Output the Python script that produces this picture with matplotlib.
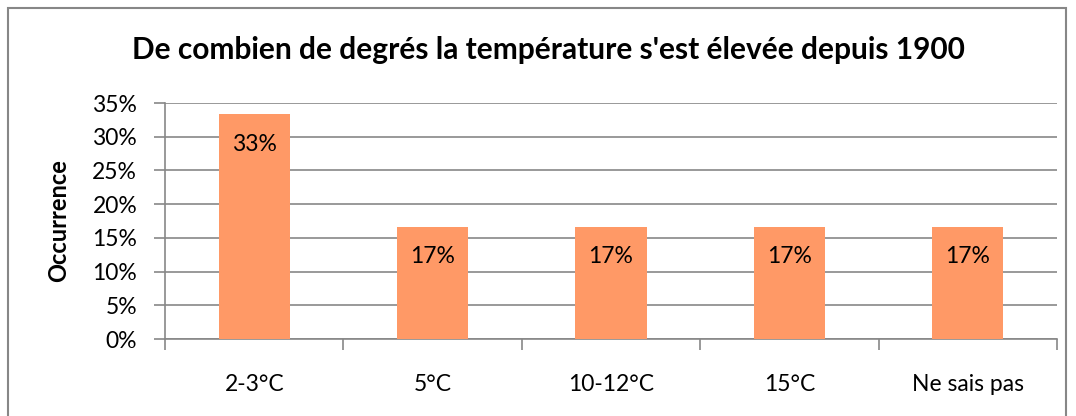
import numpy as np
import matplotlib.pyplot as plt
from matplotlib.patches import Rectangle
from matplotlib.ticker import MultipleLocator, PercentFormatter

plt.rcParams['font.family'] = ['Lato', 'DejaVu Sans']

categories = ['2-3°C', '5°C', '10-12°C', '15°C', 'Ne sais pas']
values = [33.33, 16.67, 16.67, 16.67, 16.67]
labels = ['33%', '17%', '17%', '17%', '17%']

fig = plt.figure(figsize=(10.76, 4.16), dpi=100)
ax = fig.add_axes([165 / 1076, 1 - 339 / 416, 892 / 1076, 236 / 416])

# cadre autour du graphique
fig.patches.append(Rectangle((8 / 1076, -0.01), 1058 / 1076, 1 - 8 / 416 + 0.01,
                             transform=fig.transFigure, fill=False,
                             edgecolor='#878787', linewidth=1.5))

x = np.arange(len(categories))
bars = ax.bar(x, values, width=0.4, color='#FF9966', zorder=3)
for xi, v, lab in zip(x, values, labels):
    ax.text(xi, v - 4.5, lab, ha='center', va='center', fontsize=16.5, zorder=4)

ax.set_xlim(-0.5, len(categories) - 0.5)
ax.set_ylim(0, 35)
ax.yaxis.set_major_locator(MultipleLocator(5))
ax.yaxis.set_major_formatter(PercentFormatter(decimals=0))
ax.grid(axis='y', color='#878787', linewidth=1.2, zorder=0)

ax.set_xticks(np.arange(-0.5, len(categories)))
ax.set_xticklabels([])
ax.set_xticks(x, minor=True)
ax.set_xticklabels(categories, minor=True, fontsize=16.5)
ax.tick_params(axis='x', which='major', length=8, color='#878787', width=1.2)
ax.tick_params(axis='x', which='minor', length=0, pad=25)
ax.tick_params(axis='y', length=8, color='#878787', width=1.2, labelsize=16.5, pad=12)

for s in ['top', 'right']:
    ax.spines[s].set_visible(False)
for s in ['left', 'bottom']:
    ax.spines[s].set_color('#878787')
    ax.spines[s].set_linewidth(1.2)

ax.set_ylabel('Occurrence', fontsize=17, fontweight='bold', labelpad=16)
fig.text(548 / 1076, 1 - 50 / 416, "De combien de degrés la température s'est élevée depuis 1900",
         ha='center', va='center', fontsize=21.5, fontweight='bold')

fig.savefig('out.png', dpi=100)
